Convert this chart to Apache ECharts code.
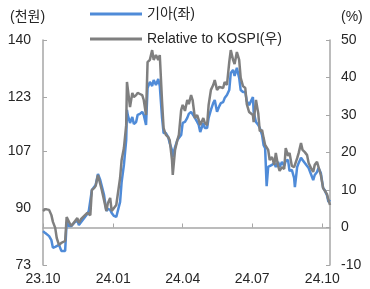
<!DOCTYPE html>
<html>
<head>
<meta charset="utf-8">
<script src="https://cdn.jsdelivr.net/npm/echarts@6/dist/echarts.min.js"></script>
<style>
  html, body { margin: 0; padding: 0; background: #fff; }
  #chart { width: 370px; height: 289px; }
</style>
</head>
<body>
<div id="chart"></div>
<script>
// 날짜 (대략 2~3일 간격으로 읽음)
const dates = [
  '2023-10-01','2023-10-04','2023-10-06','2023-10-09','2023-10-12','2023-10-14','2023-10-17','2023-10-19','2023-10-22','2023-10-25',
  '2023-10-27','2023-10-30','2023-11-01','2023-11-04','2023-11-07','2023-11-09','2023-11-12','2023-11-15','2023-11-17','2023-11-20',
  '2023-11-22','2023-11-25','2023-11-28','2023-11-30','2023-12-02','2023-12-04','2023-12-07','2023-12-09','2023-12-12','2023-12-15',
  '2023-12-17','2023-12-20','2023-12-23','2023-12-25','2023-12-28','2023-12-30','2024-01-02','2024-01-05','2024-01-07','2024-01-10',
  '2024-01-12','2024-01-15','2024-01-18','2024-01-19','2024-01-20','2024-01-23','2024-01-26','2024-01-28','2024-01-31','2024-02-02',
  '2024-02-05','2024-02-08','2024-02-10','2024-02-13','2024-02-15','2024-02-18','2024-02-21','2024-02-23','2024-02-26','2024-02-29',
  '2024-03-02','2024-03-05','2024-03-07','2024-03-10','2024-03-13','2024-03-15','2024-03-18','2024-03-19','2024-03-22','2024-03-25',
  '2024-03-27','2024-03-30','2024-04-01','2024-04-04','2024-04-07','2024-04-09','2024-04-12','2024-04-14','2024-04-17','2024-04-20',
  '2024-04-22','2024-04-24','2024-04-28','2024-04-30','2024-05-03','2024-05-05','2024-05-08','2024-05-11','2024-05-13','2024-05-16',
  '2024-05-19','2024-05-21','2024-05-24','2024-05-26','2024-05-29','2024-06-01','2024-06-03','2024-06-06','2024-06-08','2024-06-11',
  '2024-06-14','2024-06-16','2024-06-19','2024-06-22','2024-06-24','2024-06-27','2024-06-29','2024-07-02','2024-07-03','2024-07-06',
  '2024-07-09','2024-07-11','2024-07-14','2024-07-16','2024-07-18','2024-07-20','2024-07-22','2024-07-24','2024-07-27','2024-07-30',
  '2024-08-01','2024-08-04','2024-08-06','2024-08-09','2024-08-12','2024-08-14','2024-08-17','2024-08-19','2024-08-22','2024-08-25',
  '2024-08-26','2024-08-29','2024-08-31','2024-09-03','2024-09-05','2024-09-08','2024-09-11','2024-09-13','2024-09-16','2024-09-19',
  '2024-09-21','2024-09-24','2024-09-26','2024-09-29','2024-10-02','2024-10-04','2024-10-07','2024-10-09','2024-10-11'
];

// 기아 주가 (천원, 좌축)
const kiaPrice = [
  83.1, 82.5, 82.5, 81.6, 80.4, 78.1, 78.4, 78.7, 79.0, 77.2,
  77.2, 77.2, 85.8, 84.6, 84.6, 84.9, 85.8, 86.4, 84.9, 85.8,
  86.4, 87.3, 88.2, 89.1, 89.4, 95.3, 96.2, 96.8, 100.1, 98.3,
  96.5, 93.8, 89.1, 89.7, 89.4, 88.5, 87.6, 87.3, 87.3, 91.8,
  97.7, 102.8, 110.2, 119.2, 117.7, 115.3, 117.1, 115.0, 115.6, 117.7,
  118.0, 118.6, 117.7, 114.7, 125.7, 127.5, 126.3, 128.1, 126.6, 128.4,
  126.3, 116.8, 112.3, 112.3, 111.1, 109.3, 107.2, 105.2, 108.1, 110.2,
  110.2, 111.7, 115.3, 115.6, 116.8, 118.0, 118.6, 118.6, 116.8, 115.6,
  114.7, 112.6, 115.3, 113.8, 113.8, 116.8, 119.2, 121.2, 122.1, 118.6,
  120.3, 121.2, 121.5, 122.7, 123.6, 125.1, 130.2, 131.1, 129.3, 131.7,
  128.7, 125.1, 124.5, 124.5, 121.8, 120.6, 120.9, 123.0, 118.6, 115.6,
  114.7, 113.8, 111.7, 108.7, 107.8, 96.5, 102.2, 102.5, 102.8, 103.4,
  102.2, 103.7, 102.2, 103.7, 102.5, 104.0, 104.3, 101.0, 101.3, 98.9,
  96.2, 102.2, 103.4, 104.9, 104.9, 103.4, 102.5, 101.9, 100.1, 98.3,
  99.8, 100.7, 101.9, 100.4, 95.9, 95.3, 93.8, 91.8, 92.4
];

// KOSPI 대비 상대수익률 (%, 우축)
const relKospi = [
  4.4, 4.9, 5.2, 4.7, 3.3, 1.5, -0.1, -2.8, -4.7, -4.1,
  -3.9, -3.6, 2.8, 1.5, 0.4, 0.7, 1.7, 2.5, 1.2, 2.3,
  2.8, 3.3, 3.9, 4.1, 3.3, 10.0, 10.5, 11.1, 14.0, 11.6,
  10.0, 7.3, 4.4, 6.5, 7.9, 4.4, 5.2, 6.0, 6.0, 13.2,
  18.0, 21.2, 27.3, 38.8, 38.8, 32.1, 35.9, 34.8, 35.3, 35.9,
  35.6, 35.3, 34.0, 30.0, 44.1, 44.7, 47.3, 44.7, 46.0, 44.7,
  46.0, 33.5, 26.5, 24.7, 24.1, 23.3, 18.0, 14.0, 20.7, 23.3,
  24.7, 31.3, 32.7, 31.1, 34.0, 32.9, 35.3, 34.0, 29.2, 30.0,
  28.7, 27.3, 29.2, 27.9, 27.3, 32.7, 36.7, 38.0, 39.3, 36.7,
  37.5, 37.7, 37.2, 38.8, 38.0, 44.1, 47.3, 44.7, 43.6, 46.8,
  44.7, 39.9, 37.7, 37.2, 32.9, 30.8, 31.1, 30.0, 28.1, 34.0,
  30.5, 25.7, 26.0, 23.9, 22.0, 22.5, 20.7, 18.0, 18.8, 16.7,
  19.9, 16.4, 15.1, 16.1, 15.6, 21.2, 19.1, 19.9, 16.4, 16.1,
  16.4, 18.5, 19.9, 22.5, 20.7, 20.1, 19.3, 17.2, 15.9, 14.8,
  16.7, 17.5, 17.2, 14.0, 10.5, 10.0, 8.9, 7.3, 6.0
];

const leftTicks = [73, 90, 107, 123, 140];
const xTickDates = ['2023-10-01', '2024-01-01', '2024-04-01', '2024-07-01', '2024-10-01'];
const xTickLabels = ['23.10', '24.01', '24.04', '24.07', '24.10'];

const toTime = (s) => echarts.number.parseDate(s).getTime();
const xTickTimes = xTickDates.map(toTime);

const font = '"Liberation Sans", "Noto Sans CJK KR", sans-serif';
const axisColor = '#a6a6a6';
const textColor = '#262626';

const chart = echarts.init(document.getElementById('chart'), null, { renderer: 'canvas' });

const option = {
  animation: false,
  textStyle: { fontFamily: font },
  grid: { left: 43, right: 40, top: 40, bottom: 24, outerBoundsMode: 'none' },
  legend: {
    orient: 'vertical',
    left: 85,
    top: 2,
    itemGap: 11,
    itemWidth: 52,
    itemHeight: 3,
    icon: 'rect',
    textStyle: { fontSize: 14, color: textColor, fontFamily: font },
    data: ['기아(좌)', 'Relative to KOSPI(우)']
  },
  graphic: [
    { type: 'text', left: 10, top: 10, style: { text: '(천원)', fontSize: 14, fill: textColor, fontFamily: font } },
    { type: 'text', left: 341, top: 10, style: { text: '(%)', fontSize: 14, fill: textColor, fontFamily: font } }
  ],
  xAxis: {
    type: 'value',
    min: toTime('2023-10-01'),
    max: toTime('2024-10-11'),
    axisLine: { lineStyle: { color: axisColor, width: 1.5 } },
    axisTick: { inside: true, length: 4, lineStyle: { color: axisColor }, customValues: xTickTimes },
    axisLabel: {
      customValues: xTickTimes,
      color: textColor,
      fontSize: 14,
      margin: 7,
      formatter: (v) => {
        const i = xTickTimes.indexOf(v);
        return i >= 0 ? xTickLabels[i] : '';
      }
    },
    splitLine: { show: false }
  },
  yAxis: [
    {
      type: 'value',
      min: 73,
      max: 140,
      axisLine: { show: true, lineStyle: { color: axisColor, width: 1.5 } },
      axisTick: { show: true, inside: true, length: 4, lineStyle: { color: axisColor }, customValues: leftTicks },
      axisLabel: { customValues: leftTicks, color: textColor, fontSize: 14, margin: 12 },
      splitLine: { show: false }
    },
    {
      type: 'value',
      min: -10,
      max: 50,
      interval: 10,
      position: 'right',
      axisLine: { show: true, lineStyle: { color: axisColor, width: 1.5 } },
      axisTick: { show: true, inside: true, length: 4, lineStyle: { color: axisColor } },
      axisLabel: { color: textColor, fontSize: 14, margin: 11 },
      splitLine: { show: false }
    }
  ],
  series: [
    {
      name: '기아(좌)',
      type: 'line',
      yAxisIndex: 0,
      symbol: 'none',
      color: '#4f8bd8',
      lineStyle: { width: 2.5, color: '#4f8bd8' },
      data: dates.map((d, i) => [toTime(d), kiaPrice[i]])
    },
    {
      name: 'Relative to KOSPI(우)',
      type: 'line',
      yAxisIndex: 1,
      symbol: 'none',
      color: '#7f7f7f',
      lineStyle: { width: 2.5, color: '#7f7f7f' },
      data: dates.map((d, i) => [toTime(d), relKospi[i]])
    }
  ]
};

chart.setOption(option);
window.addEventListener('resize', () => chart.resize());
</script>
</body>
</html>
